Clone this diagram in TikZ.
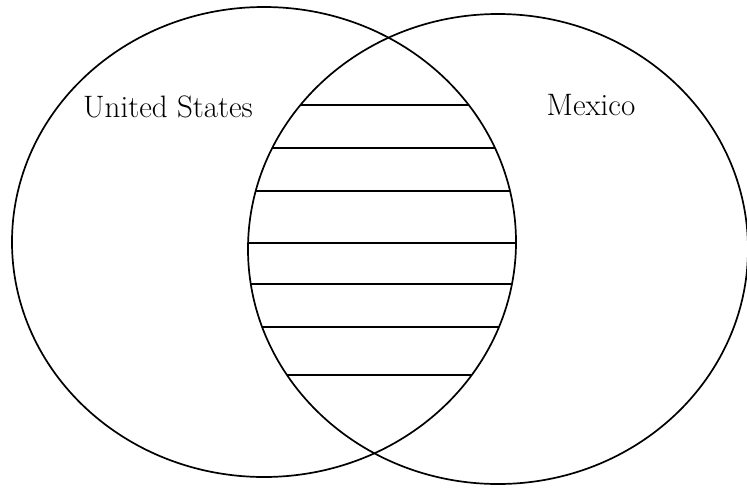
\documentclass[tikz,border=0pt]{standalone}
\usepackage{tikz}
\usetikzlibrary{shapes.geometric}
\tikzset{
  halmaz/.style={draw,ellipse,line width=1.7pt,inner sep=0pt},
  vonal/.style={line width=1.7pt},
  felirat/.style={font=\fontsize{31}{36}\selectfont,inner sep=0pt},
}
\begin{document}
\begin{tikzpicture}[x=1pt,y=-1pt]
  \useasboundingbox (0,0) rectangle (747,488);
  % a ket halmaz
  \node[halmaz,minimum width=504pt,minimum height=470pt] (usa) at (264,242) {};
  \node[halmaz,minimum width=500pt,minimum height=470pt] (mex) at (498,249) {};
  % metszet vonalkazasa
  \begin{scope}
    \clip (264,242) ellipse [x radius=252pt, y radius=235pt];
    \clip (498,249) ellipse [x radius=250pt, y radius=235pt];
    \foreach \y in {105,148,191,243,284,327,375}
      \draw[vonal] (230,\y) -- (540,\y);
  \end{scope}
  % feliratok
  \node[felirat] (usanev) at (168,107) {United States};
  \node[felirat] (mexnev) at (591,105) {Mexico};
\end{tikzpicture}
\end{document}
